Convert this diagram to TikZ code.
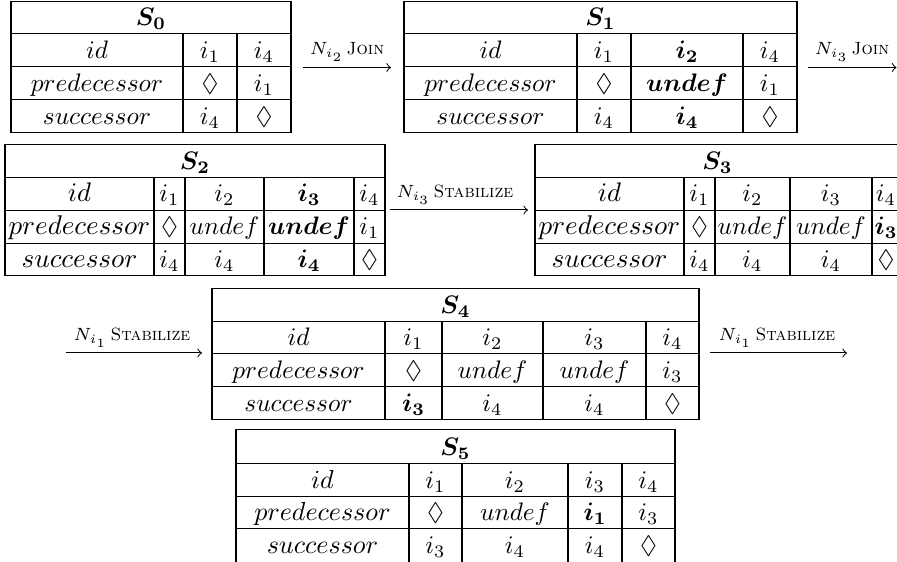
\documentclass[tikz,border=0pt]{standalone}
\usepackage{amsmath,amssymb}
\newcommand\dmd{$\Diamond$}
\newcommand\wide[2]{\scalebox{#1}{$#2$}}
\newcommand\tabframe[8]{%
  \draw[rulestyle] (#1,#3) rectangle (#2,#7);
  \draw[rulestyle] (#1,#4) -- (#2,#4) (#1,#5) -- (#2,#5) (#1,#6) -- (#2,#6);
  \foreach \cx in {#8} \draw[rulestyle] (\cx,#4) -- (\cx,#7);}
\newcommand\cellrow[3]{\foreach \cx/\ct [count=\ci] in {#3} \node[cell] (#1-\ci) at (\cx,#2) {\ct};}
\begin{document}
\begin{tikzpicture}[x=0.395pt,y=-0.395pt,
  cell/.style={anchor=base,inner sep=0pt},
  lbl/.style={anchor=base,inner sep=0pt,font=\scriptsize},
  trans/.style={->,line width=0.4pt},
  rulestyle/.style={draw=black,line width=0.4pt}]
\useasboundingbox (0,0) rectangle (897,562);

% S0
\tabframe{11}{291}{2}{34}{67}{100}{133}{183,237}
\cellrow{t0h}{26}{151/{$\boldsymbol{S_0}$}}
\cellrow{t0a}{59}{97/{$id$},210/{$i_1$},264/{$i_4$}}
\cellrow{t0b}{92}{97/{$predecessor$},210/\dmd,264/{$i_1$}}
\cellrow{t0c}{125}{97/{$successor$},210/{$i_4$},264/\dmd}

% S1
\tabframe{404}{797}{2}{34}{67}{100}{133}{577,631,743}
\cellrow{t1h}{26}{600.5/{$\boldsymbol{S_1}$}}
\cellrow{t1a}{59}{490.5/{$id$},604/{$i_1$},687/{$\boldsymbol{i_2}$},770/{$i_4$}}
\cellrow{t1b}{92}{490.5/{$predecessor$},604/\dmd,687/{$\boldsymbol{undef}$},770/{$i_1$}}
\cellrow{t1c}{125}{490.5/{$successor$},604/{$i_4$},687/{$\boldsymbol{i_4}$},770/\dmd}

% S2
\tabframe{5}{385}{145}{178}{211}{244}{276}{154,185,264,354}
\cellrow{t2h}{170}{195/{$\boldsymbol{S_2}$}}
\cellrow{t2a}{202}{79.5/{\wide{1.06}{id}},169.5/{$i_1$},224.5/{$i_2$},309/{$\boldsymbol{i_3}$},369.5/{$i_4$}}
\cellrow{t2b}{235}{79.5/{\wide{1.07}{predecessor}},169.5/\dmd,224.5/{$undef$},309/{$\boldsymbol{undef}$},369.5/{$i_1$}}
\cellrow{t2c}{268}{79.5/{\wide{1.07}{successor}},169.5/{$i_4$},224.5/{$i_4$},309/{$\boldsymbol{i_4}$},369.5/\dmd}

% S3
\tabframe{535}{900}{145}{178}{211}{244}{276}{684,715,790,872}
\cellrow{t3h}{170}{717.5/{$\boldsymbol{S_3}$}}
\cellrow{t3a}{202}{609.5/{\wide{1.06}{id}},699.5/{$i_1$},752.5/{$i_2$},831/{$i_3$},886/{$i_4$}}
\cellrow{t3b}{235}{609.5/{\wide{1.07}{predecessor}},699.5/\dmd,752.5/{$undef$},831/{$undef$},886/{$\boldsymbol{i_3}$}}
\cellrow{t3c}{268}{609.5/{\wide{1.07}{successor}},699.5/{$i_4$},752.5/{$i_4$},831/{$i_4$},886/\dmd}

% S4
\tabframe{212}{699}{289}{322}{354}{387}{420}{385,442,543,646}
\cellrow{t4h}{314}{455.5/{$\boldsymbol{S_4}$}}
\cellrow{t4a}{346}{298.5/{$id$},413.5/{$i_1$},492.5/{$i_2$},594.5/{$i_3$},672.5/{$i_4$}}
\cellrow{t4b}{379}{298.5/{$predecessor$},413.5/\dmd,492.5/{$undef$},594.5/{$undef$},672.5/{$i_3$}}
\cellrow{t4c}{412}{298.5/{$successor$},413.5/{$\boldsymbol{i_3}$},492.5/{$i_4$},594.5/{$i_4$},672.5/\dmd}

% S5
\tabframe{236}{675}{430}{464}{497}{529}{564}{409,462,568,622}
\cellrow{t5h}{456}{455.5/{$\boldsymbol{S_5}$}}
\cellrow{t5a}{489}{322.5/{\wide{1.03}{id}},435.5/{$i_1$},515/{$i_2$},595/{$i_3$},648.5/{$i_4$}}
\cellrow{t5b}{521}{322.5/{\wide{1.03}{predecessor}},435.5/\dmd,515/{$undef$},595/{$\boldsymbol{i_1}$},648.5/{$i_3$}}
\cellrow{t5c}{554}{322.5/{\wide{1.03}{successor}},435.5/{$i_3$},515/{$i_4$},595/{$i_4$},648.5/\dmd}

% transitions
\coordinate (a1s) at (303,67.5); \coordinate (a1e) at (391,67.5);
\draw[trans] (a1s) -- (a1e);
\node[lbl] (a1l) at (347,55) {$N_{i_2}$\,\textsc{Join}};

\coordinate (a2s) at (808,67.5); \coordinate (a2e) at (896.5,67.5);
\draw[trans] (a2s) -- (a2e);
\node[lbl] (a2l) at (852,55) {$N_{i_3}$\,\textsc{Join}};

\coordinate (a3s) at (390,210); \coordinate (a3e) at (528,210);
\draw[trans] (a3s) -- (a3e);
\node[lbl] (a3l) at (455,198) {$N_{i_3}$\,\textsc{Stabilize}};

\coordinate (a4s) at (66,353); \coordinate (a4e) at (202,353);
\draw[trans] (a4s) -- (a4e);
\node[lbl] (a4l) at (132,341) {$N_{i_1}$\,\textsc{Stabilize}};

\coordinate (a5s) at (710,353); \coordinate (a5e) at (847,353);
\draw[trans] (a5s) -- (a5e);
\node[lbl] (a5l) at (777,341) {$N_{i_1}$\,\textsc{Stabilize}};
\end{tikzpicture}
\end{document}
